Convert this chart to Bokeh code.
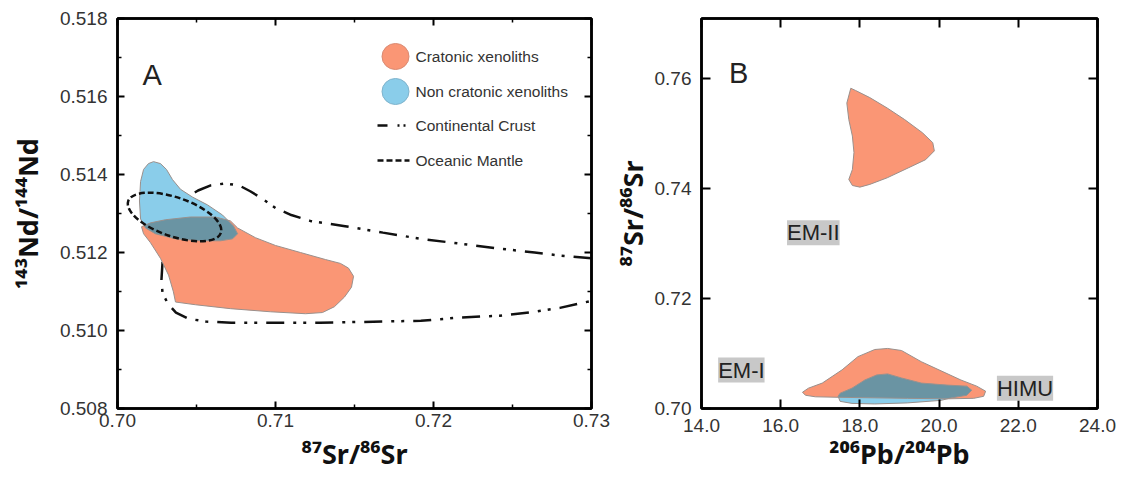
from bokeh.plotting import figure
from bokeh.layouts import row
from bokeh.models import FixedTicker, LinearAxis, Range1d, Label, CustomJSTickFormatter
from bokeh.embed import file_html
from bokeh.resources import INLINE

# ---------------- Panel A: 87Sr/86Sr vs 143Nd/144Nd ----------------
cratonic_A_sr = [0.70152, 0.70209, 0.70304, 0.70462, 0.70620, 0.70715, 0.70760, 0.70873, 0.71000,
                 0.71158, 0.71316, 0.71411, 0.71462, 0.71494, 0.71481, 0.71437, 0.71373, 0.71297,
                 0.71190, 0.70968, 0.70715, 0.70494, 0.70367, 0.70354, 0.70323, 0.70272, 0.70209, 0.70165]
cratonic_A_nd = [0.51266, 0.51276, 0.51284, 0.51291, 0.51291, 0.51281, 0.51263, 0.51238, 0.51218,
                 0.51200, 0.51182, 0.51172, 0.51160, 0.51139, 0.51111, 0.51086, 0.51061, 0.51046,
                 0.51043, 0.51048, 0.51056, 0.51066, 0.51073, 0.51099, 0.51142, 0.51185, 0.51225, 0.51248]

noncratonic_A_sr = [0.70228, 0.70272, 0.70310, 0.70348, 0.70399, 0.70475, 0.70570, 0.70665, 0.70734,
                    0.70760, 0.70728, 0.70652, 0.70525, 0.70367, 0.70240, 0.70177, 0.70146, 0.70139,
                    0.70146, 0.70165, 0.70196]
noncratonic_A_nd = [0.51433, 0.51428, 0.51413, 0.51387, 0.51362, 0.51342, 0.51322, 0.51296, 0.51268,
                    0.51248, 0.51235, 0.51230, 0.51230, 0.51235, 0.51248, 0.51263, 0.51286, 0.51332,
                    0.51382, 0.51413, 0.51428]

crust_sr = [0.7300, 0.7280, 0.7264, 0.7242, 0.7216, 0.7192, 0.7168, 0.7143, 0.7122, 0.7110,
            0.7100, 0.7092, 0.7084, 0.7077, 0.7068, 0.7059, 0.7051, 0.7043, 0.7037, 0.7032,
            0.7030, 0.70285, 0.70278, 0.70285, 0.7032, 0.7037, 0.7045, 0.7056, 0.7072, 0.7097,
            0.7128, 0.7168, 0.7192, 0.7216, 0.7242, 0.7264, 0.7280, 0.7300]
crust_nd = [0.51185, 0.51192, 0.51200, 0.51210, 0.51223, 0.51235, 0.51251, 0.51268, 0.51281, 0.51296,
            0.51314, 0.51337, 0.51357, 0.51372, 0.51377, 0.51372, 0.51359, 0.51339, 0.51306, 0.51261,
            0.51218, 0.51175, 0.51129, 0.51096, 0.51068, 0.51046, 0.51030, 0.51023, 0.51020, 0.51020,
            0.51020, 0.51023, 0.51025, 0.51033, 0.51038, 0.51048, 0.51058, 0.51076]

# Oceanic mantle field (ellipse): centre, full width (Sr), full height (Nd), tilt (rad)
mantle_sr = [0.70361]
mantle_nd = [0.51291]
mantle_width = [0.00620]
mantle_height = [0.00100]
mantle_angle = [-0.33]

A_X_TICKS = [0.70, 0.71, 0.72, 0.73]
A_X_LABELS = ["0.70", "0.71", "0.72", "0.73"]
A_X_MINOR = [0.705, 0.715, 0.725]
A_Y_TICKS = [0.508, 0.510, 0.512, 0.514, 0.516, 0.518]
A_Y_LABELS = ["0.508", "0.510", "0.512", "0.514", "0.516", "0.518"]
A_Y_MINOR = [0.509, 0.511, 0.513, 0.515, 0.517]
A_X_TITLE = "\u2078\u2077Sr/\u2078\u2076Sr"
A_Y_TITLE = "\u00b9\u2074\u00b3Nd/\u00b9\u2074\u2074Nd"

LEGEND_LABELS = ["Cratonic xenoliths", "Non cratonic xenoliths", "Continental Crust", "Oceanic Mantle"]

# ---------------- Panel B: 206Pb/204Pb vs 87Sr/86Sr ----------------
cratonic_B_upper_pb = [17.77, 17.67, 17.72, 17.81, 17.85, 17.81, 17.72, 17.81, 18.00, 18.25,
                       18.69, 19.22, 19.66, 19.88, 19.84, 19.58, 19.13, 18.69, 18.25, 17.89]
cratonic_B_upper_sr = [0.7583, 0.7556, 0.7526, 0.7496, 0.7466, 0.7435, 0.7417, 0.7406, 0.7403, 0.7408,
                       0.7420, 0.7438, 0.7453, 0.7469, 0.7484, 0.7502, 0.7526, 0.7547, 0.7566, 0.7579]

cratonic_B_lower_pb = [16.55, 16.70, 17.05, 17.55, 17.95, 18.375, 18.70, 19.05, 19.55, 20.05, 20.55,
                       20.95, 21.175, 21.125, 20.875, 20.20, 19.20, 18.375, 17.45, 16.875, 16.625]
cratonic_B_lower_sr = [0.70296, 0.70370, 0.70463, 0.70704, 0.70944, 0.71074, 0.71093, 0.71056, 0.70852,
                       0.70685, 0.70519, 0.70407, 0.70315, 0.70222, 0.70185, 0.70176, 0.70185, 0.70194,
                       0.70204, 0.70213, 0.70241]

noncratonic_B_pb = [17.45, 17.50, 17.80, 18.125, 18.425, 18.70, 19.05, 19.55, 20.20, 20.70, 20.825,
                    20.70, 20.25, 20.05, 19.20, 18.375, 17.80, 17.50]
noncratonic_B_sr = [0.70222, 0.70278, 0.70370, 0.70519, 0.70611, 0.70630, 0.70556, 0.70463, 0.70426,
                    0.70407, 0.70333, 0.70241, 0.70185, 0.70148, 0.70102, 0.70083, 0.70093, 0.70130]

MANTLE_LABELS = ["EM-I", "EM-II", "HIMU"]
MANTLE_LABEL_PB = [14.42, 16.16, 21.46]
MANTLE_LABEL_SR = [0.7070, 0.7320, 0.7037]

B_X_TICKS = [14, 16, 18, 20, 22, 24]
B_X_LABELS = ["14.0", "16.0", "18.0", "20.0", "22.0", "24.0"]
B_Y_TICKS = [0.70, 0.72, 0.74, 0.76]
B_Y_LABELS = ["0.70", "0.72", "0.74", "0.76"]
B_X_TITLE = "\u00b2\u2070\u2076Pb/\u00b2\u2070\u2074Pb"
B_Y_TITLE = "\u2078\u2077Sr/\u2078\u2076Sr"

# ---------------- styling ----------------
FONT = "Liberation Sans"
TITLE_FONT = "Noto Sans"
ORANGE = "#FA9675"
BLUE = "#8ACDEA"
OVERLAP = "#6A94A3"
OUTLINE = "#9a908c"
TICK_TEXT = "#333333"


def tick_formatter(vals, labels):
    return CustomJSTickFormatter(args=dict(tv=vals, tl=labels), code="""
        for (let i = 0; i < tv.length; i++) {
            if (Math.abs(tv[i] - tick) < 1e-9) { return tl[i]; }
        }
        return '';
    """)


def style_axis(ax, ticks, minor, labels, major_in, minor_in, show, standoff=0):
    ax.ticker = FixedTicker(ticks=ticks, minor_ticks=minor)
    ax.axis_line_color = "black"
    ax.axis_line_width = 2.5
    ax.major_tick_line_color = "black"
    ax.major_tick_line_width = 2
    ax.minor_tick_line_color = "black"
    ax.minor_tick_line_width = 1.5
    ax.major_tick_in = major_in
    ax.major_tick_out = 0
    ax.minor_tick_in = minor_in
    ax.minor_tick_out = 0
    if show:
        ax.formatter = tick_formatter(ticks, labels)
        ax.major_label_text_font = FONT
        ax.major_label_text_font_size = "19px"
        ax.major_label_text_color = TICK_TEXT
        ax.major_label_standoff = standoff
    else:
        ax.formatter = CustomJSTickFormatter(code="return '';")
        ax.major_label_text_color = None
        ax.major_label_text_font_size = "1px"
        ax.major_label_standoff = 0


def style_title(ax, text, standoff):
    ax.axis_label = text
    ax.axis_label_text_font = TITLE_FONT
    ax.axis_label_text_font_style = "bold"
    ax.axis_label_text_font_size = "27px"
    ax.axis_label_text_color = "#111111"
    ax.axis_label_standoff = standoff


def make_fig(w, h, xr, yr, bl, br, bt, bb):
    p = figure(width=w, height=h, x_range=Range1d(*xr), y_range=Range1d(*yr),
               output_backend="svg", toolbar_location=None, tools="",
               min_border_left=bl, min_border_right=br, min_border_top=bt, min_border_bottom=bb)
    p.xgrid.visible = False
    p.ygrid.visible = False
    p.outline_line_color = "black"
    p.outline_line_width = 2.5
    p.background_fill_color = "white"
    p.border_fill_color = "white"
    return p


# ---- polygon overlap (blue field clipped by hull of orange field) ----
def _cross(o, a, b):
    return (a[0] - o[0]) * (b[1] - o[1]) - (a[1] - o[1]) * (b[0] - o[0])


def convex_hull(points):
    pts = sorted(set(points))
    lower, upper = [], []
    for p in pts:
        while len(lower) >= 2 and _cross(lower[-2], lower[-1], p) <= 0:
            lower.pop()
        lower.append(p)
    for p in reversed(pts):
        while len(upper) >= 2 and _cross(upper[-2], upper[-1], p) <= 0:
            upper.pop()
        upper.append(p)
    return lower[:-1] + upper[:-1]


def _intersect(p1, p2, a, b):
    x1, y1 = p1
    x2, y2 = p2
    x3, y3 = a
    x4, y4 = b
    den = (x1 - x2) * (y3 - y4) - (y1 - y2) * (x3 - x4)
    t = ((x1 - x3) * (y3 - y4) - (y1 - y3) * (x3 - x4)) / den
    return (x1 + t * (x2 - x1), y1 + t * (y2 - y1))


def overlap(sx, sy, cx, cy, xr, yr):
    nx = lambda v: (v - xr[0]) / (xr[1] - xr[0])
    ny = lambda v: (v - yr[0]) / (yr[1] - yr[0])
    subject = [(nx(a), ny(b)) for a, b in zip(sx, sy)]
    hull = convex_hull([(nx(a), ny(b)) for a, b in zip(cx, cy)])
    out = subject
    for i in range(len(hull)):
        a, b = hull[i], hull[(i + 1) % len(hull)]
        inp, out = out, []
        if not inp:
            break
        s = inp[-1]
        for e in inp:
            e_in = _cross(a, b, e) >= 0
            s_in = _cross(a, b, s) >= 0
            if e_in:
                if not s_in:
                    out.append(_intersect(s, e, a, b))
                out.append(e)
            elif s_in:
                out.append(_intersect(s, e, a, b))
            s = e
    ox = [xr[0] + p[0] * (xr[1] - xr[0]) for p in out]
    oy = [yr[0] + p[1] * (yr[1] - yr[0]) for p in out]
    return ox, oy


# Both panels share the same frame top/bottom (the row layout aligns plot frames)
FIG_H = 477
FR_T = 18
FR_H = 390
FR_B = FIG_H - FR_T - FR_H

# ================= Panel A =================
AX = (0.70, 0.73)
AY = (0.508, 0.518)
A_FW, A_L = 474, 117
pA = make_fig(610, FIG_H, AX, AY, A_L, 19, FR_T, FR_B)

def ax_(px):   # page px -> data x
    return AX[0] + (px - A_L) / A_FW * (AX[1] - AX[0])

def ay_(py):   # page px -> data y
    return AY[1] - (py - FR_T) / FR_H * (AY[1] - AY[0])

pA.line(crust_sr, crust_nd, line_color="#111111", line_width=2.5, line_dash="18 9 3 7 3 9")
pA.patch(cratonic_A_sr, cratonic_A_nd, fill_color=ORANGE, line_color=None)
pA.patch(noncratonic_A_sr, noncratonic_A_nd, fill_color=BLUE, line_color=None)
ovA_x, ovA_y = overlap(noncratonic_A_sr, noncratonic_A_nd, cratonic_A_sr, cratonic_A_nd, AX, AY)
pA.patch(ovA_x, ovA_y, fill_color=OVERLAP, line_color=None)
pA.patch(cratonic_A_sr, cratonic_A_nd, fill_color=None, line_color=OUTLINE, line_width=1)
pA.patch(noncratonic_A_sr, noncratonic_A_nd, fill_color=None, line_color=OUTLINE, line_width=1)
pA.ellipse(x=mantle_sr, y=mantle_nd, width=mantle_width, height=mantle_height, angle=mantle_angle,
           fill_color=None, line_color="#111111", line_width=2.5, line_dash="6 3")

# legend (inside the frame, upper right) - rows at page y
leg_rows = [56, 91, 125, 160]
pA.ellipse(x=[ax_(395)] * 2, y=[ay_(leg_rows[0]), ay_(leg_rows[1])], width=27, height=26,
           width_units="screen", height_units="screen",
           fill_color=[ORANGE, BLUE], line_color=["#d98a72", "#7fb3cc"], line_width=1)
pA.segment(x0=[ax_(377)], y0=[ay_(leg_rows[2])], x1=[ax_(405)], y1=[ay_(leg_rows[2])],
           line_color="#111111", line_width=2.5, line_dash="10 10 2 4 2 40")
pA.segment(x0=[ax_(377)], y0=[ay_(leg_rows[3])], x1=[ax_(409)], y1=[ay_(leg_rows[3])],
           line_color="#111111", line_width=2.5, line_dash="6 3")
for txt, py in zip(LEGEND_LABELS, leg_rows):
    pA.add_layout(Label(x=ax_(415), y=ay_(py), text=txt, text_font=FONT, text_font_size="15.5px",
                        text_color="#333333", text_baseline="middle", text_align="left"))

pA.add_layout(Label(x=ax_(142), y=ay_(74), text="A", text_font=FONT, text_font_size="29px",
                    text_color="#222222", text_baseline="alphabetic", text_align="left"))

style_axis(pA.xaxis[0], A_X_TICKS, A_X_MINOR, A_X_LABELS, 7, 4, True, 5)
style_axis(pA.yaxis[0], A_Y_TICKS, A_Y_MINOR, A_Y_LABELS, 7, 4, True, 10)
style_title(pA.xaxis[0], A_X_TITLE, 5)
style_title(pA.yaxis[0], A_Y_TITLE, 11)
topA = LinearAxis()
style_axis(topA, A_X_TICKS, A_X_MINOR, A_X_LABELS, 7, 4, False)
pA.add_layout(topA, "above")
rightA = LinearAxis()
style_axis(rightA, A_Y_TICKS, A_Y_MINOR, A_Y_LABELS, 7, 4, False)
pA.add_layout(rightA, "right")

# ================= Panel B =================
# figure starts at page x 610; frame left at page 695
BX = (14.0, 24.0)
BY = (0.70, 0.771)
B_FW, B_L, B_OFF = 402, 85, 610
pB = make_fig(506, FIG_H, BX, BY, B_L, 19, FR_T, FR_B)

def bx_(px):
    return BX[0] + (px - B_OFF - B_L) / B_FW * (BX[1] - BX[0])

def by_(py):
    return BY[1] - (py - FR_T) / FR_H * (BY[1] - BY[0])

pB.patch(cratonic_B_upper_pb, cratonic_B_upper_sr, fill_color=ORANGE, line_color=OUTLINE, line_width=1)
pB.patch(cratonic_B_lower_pb, cratonic_B_lower_sr, fill_color=ORANGE, line_color=None)
pB.patch(noncratonic_B_pb, noncratonic_B_sr, fill_color=BLUE, line_color=None)
ovB_x, ovB_y = overlap(noncratonic_B_pb, noncratonic_B_sr, cratonic_B_lower_pb, cratonic_B_lower_sr, BX, BY)
pB.patch(ovB_x, ovB_y, fill_color=OVERLAP, line_color=None)
pB.patch(cratonic_B_lower_pb, cratonic_B_lower_sr, fill_color=None, line_color=OUTLINE, line_width=1)
pB.patch(noncratonic_B_pb, noncratonic_B_sr, fill_color=None, line_color=OUTLINE, line_width=1)

for txt, xv, yv in zip(MANTLE_LABELS, MANTLE_LABEL_PB, MANTLE_LABEL_SR):
    pB.add_layout(Label(x=xv, y=yv, text=txt, text_font=FONT, text_font_size="22px",
                        text_color="#222222", text_baseline="middle", text_align="left",
                        background_fill_color="#c8c8c8", background_fill_alpha=1.0))

pB.add_layout(Label(x=bx_(723), y=by_(72), text="B", text_font=FONT, text_font_size="29px",
                    text_color="#222222", text_baseline="alphabetic", text_align="left"))

style_axis(pB.xaxis[0], B_X_TICKS, [], B_X_LABELS, 9, 0, True, 10)
style_axis(pB.yaxis[0], B_Y_TICKS, [], B_Y_LABELS, 9, 0, True, 10)
style_title(pB.xaxis[0], B_X_TITLE, 0)
style_title(pB.yaxis[0], B_Y_TITLE, 1)
topB = LinearAxis()
style_axis(topB, B_X_TICKS, [], B_X_LABELS, 9, 0, False)
pB.add_layout(topB, "above")
rightB = LinearAxis()
style_axis(rightB, B_Y_TICKS, [], B_Y_LABELS, 9, 0, False)
pB.add_layout(rightB, "right")

layout = row(pA, pB)
open("out.html", "w").write(file_html(layout, INLINE))
